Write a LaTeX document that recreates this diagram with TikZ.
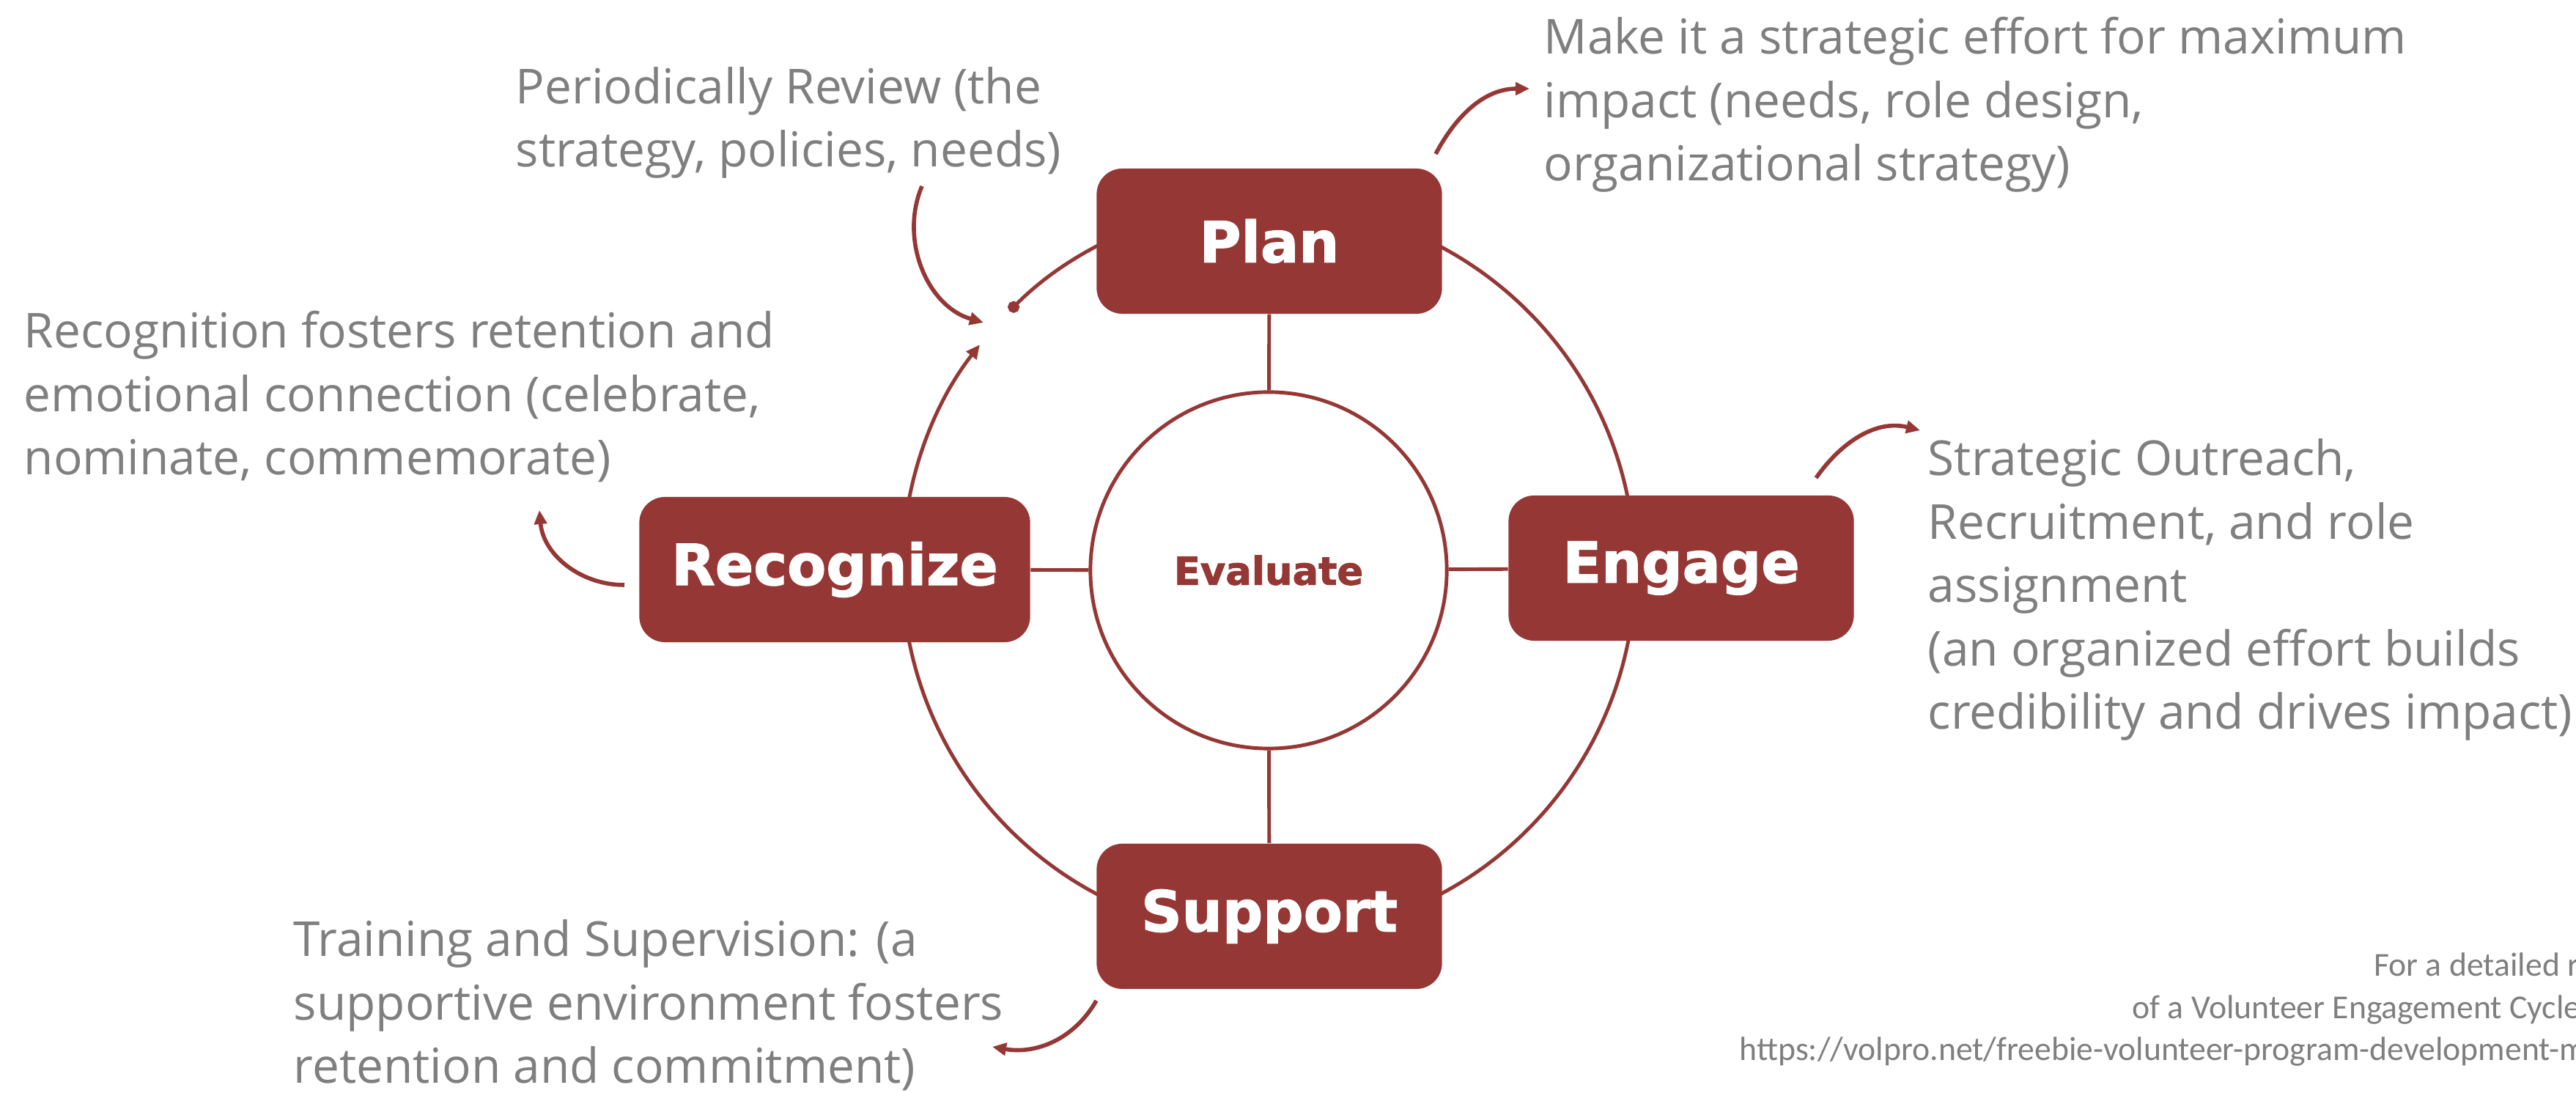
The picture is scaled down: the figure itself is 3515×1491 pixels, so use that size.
\documentclass[tikz,border=0pt]{standalone}
\usepackage{fontspec}
\setmainfont{Open Sans}
\newfontfamily\boxfont{DejaVu Sans}[BoldFeatures={FakeBold=1.6}]
\newfontfamily\notefont{Carlito}
\usetikzlibrary{arrows.meta,backgrounds,calc}
\definecolor{boxred}{RGB}{149,55,53}
\definecolor{txtgray}{RGB}{127,127,127}
\begin{document}
\begin{tikzpicture}[x=0.01cm,y=0.01cm,
  stagebox/.style={rectangle, rounded corners=0.35cm, fill=boxred, text=white,
    minimum height=1.98cm, minimum width=4.71cm, inner sep=0pt,
    font=\boxfont\bfseries\fontsize{22}{26}\selectfont},
  hand/.style={text=txtgray, font=\fontsize{18.7}{24.6}\selectfont, align=left,
    anchor=base west, inner sep=0pt},
  ring/.style={draw=boxred, line width=1.4pt},
  tipA/.style={-{Triangle[length=0.19cm,width=0.17cm]}},
  callout/.style={draw=boxred, line width=1.6pt, tipA},
  note/.style={text=txtgray, font=\notefont\fontsize{13}{16}\selectfont,
    anchor=base east, inner sep=0pt}
]
\useasboundingbox (0,0) rectangle (3515,1491);
\coordinate (C) at (1731,713);
\node[circle, ring, fill=white, minimum size=4.86cm, inner sep=0pt, text=boxred,
  font=\boxfont\bfseries\fontsize{15}{18}\selectfont] (eval) at (C) {Evaluate};
\node[stagebox] (plan) at (1732,1162) {Plan};
\node[stagebox] (engage) at (2294,716) {Engage};
\node[stagebox] (support) at (1732,241) {Support};
\node[stagebox, minimum width=5.33cm] (recog) at (1139,714) {Recognize};

\begin{pgfonlayer}{background}
\draw[ring] ($(C)+(100:500)$) arc[start angle=100, end angle=-190, radius=500];
\draw[ring, tipA] ($(C)+(178:500)$) arc[start angle=178, end angle=142, radius=500];
\draw[ring, -{Circle[length=0.16cm]}] ($(C)+(100:500)$) arc[start angle=100, end angle=135, radius=500];
\draw[ring] (plan) -- (eval);
\draw[ring] (engage) -- (eval);
\draw[ring] (support) -- (eval);
\draw[ring] (recog) -- (eval);
\end{pgfonlayer}

% callout arrows
\coordinate (a1s) at (1959,1281); \coordinate (a1e) at (2087,1370);
\coordinate (a2s) at (2478,839);  \coordinate (a2e) at (2620,904);
\coordinate (a3s) at (852,693);   \coordinate (a3e) at (736,795);
\coordinate (a4s) at (1496,126);  \coordinate (a4e) at (1354,63);
\coordinate (a5s) at (1258,1237); \coordinate (a5e) at (1342,1051);
\draw[callout] (a1s) to[out=62,in=180] (a1e);
\draw[callout] (a2s) to[out=55,in=166] (a2e);
\draw[callout] (a3s) to[out=180,in=-85] (a3e);
\draw[callout] (a4s) to[out=-120,in=-10] (a4e);
\draw[callout] (a5s) to[out=247,in=164] (a5e);

% texts (anchor = baseline of the last line)
\node[hand] (t1) at (2106,1244) {Make it a strategic effort for maximum\\impact (needs, role design,\\organizational strategy)};
\node[hand] (t2) at (703,1263) {Periodically Review (the\\strategy, policies, needs)};
\node[hand] (t3) at (32,843) {Recognition fosters retention and\\emotional connection (celebrate,\\nominate, commemorate)};
\node[hand] (t4) at (2630,496) {Strategic Outreach,\\Recruitment, and role\\assignment\\(an organized effort builds\\credibility and drives impact)};
\node[hand] (t5) at (400,13) {Training and Supervision: (a\\supportive environment fosters\\retention and commitment)};

\node[note] (n1) at (3520,159) {For a detailed r};
\node[note] (n2) at (3522,101) {of a Volunteer Engagement Cycle};
\node[note] (n3) at (3530,44) {https://volpro.net/freebie-volunteer-program-development-m};
\end{tikzpicture}
\end{document}
